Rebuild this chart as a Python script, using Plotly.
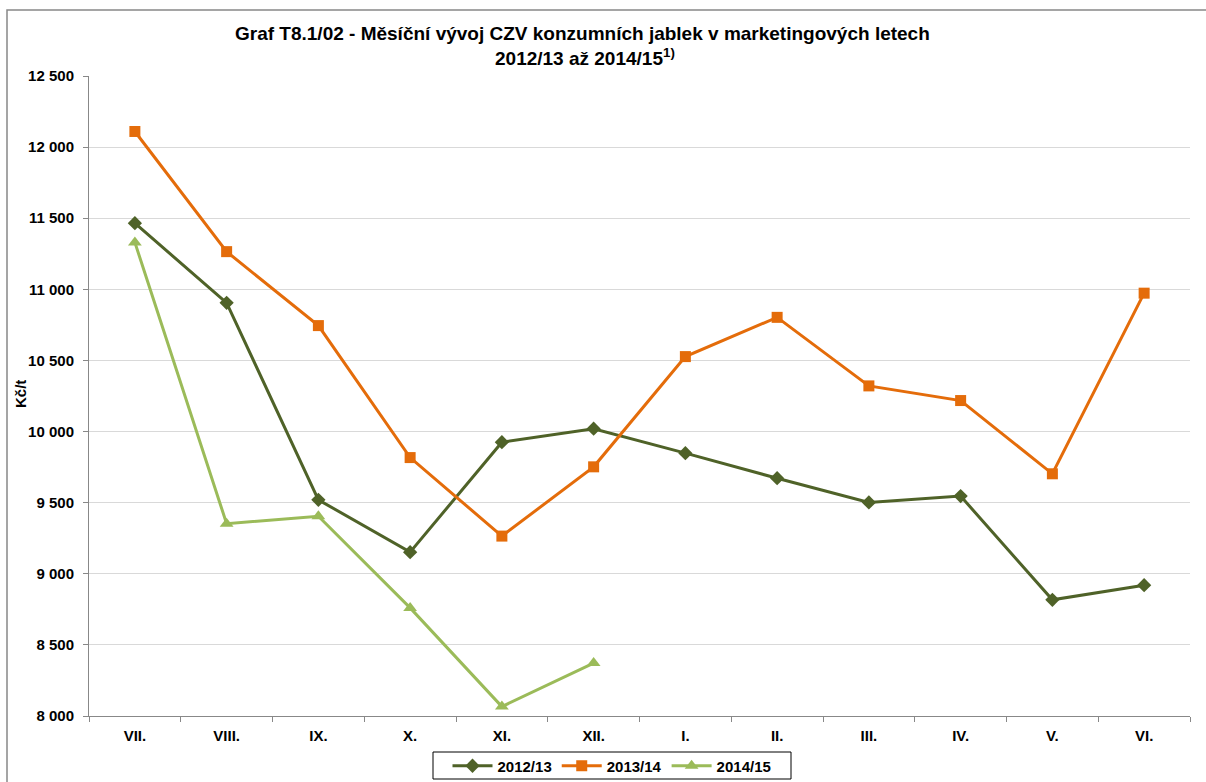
import plotly.graph_objects as go

months = ["VII.", "VIII.", "IX.", "X.", "XI.", "XII.", "I.", "II.", "III.", "IV.", "V.", "VI."]
s2012_13 = [11465, 10905, 9520, 9152, 9925, 10020, 9848, 9672, 9502, 9546, 8817, 8920]
s2013_14 = [12110, 11265, 10745, 9817, 9265, 9752, 10527, 10803, 10321, 10218, 9703, 10973]
s2014_15 = [11330, 9352, 9405, 8760, 8066, 8372]
y_tickvals = [8000, 8500, 9000, 9500, 10000, 10500, 11000, 11500, 12000, 12500]
y_ticktext = ["8 000", "8 500", "9 000", "9 500", "10 000", "10 500", "11 000", "11 500", "12 000", "12 500"]

W, H = 1206, 782
L, R, T, B = 89, 16, 76, 66
pw, ph = W - L - R, H - T - B

def px_x(x):
    return (x - L) / pw

def px_y(y):
    return (H - B - y) / ph

FONT = "Arial, Liberation Sans, sans-serif"
TICKFONT = dict(family=FONT, size=15, color="black", weight="bold")

fig = go.Figure()
fig.add_trace(go.Scatter(x=months, y=s2012_13, name="2012/13", mode="lines+markers",
                         line=dict(color="#4F6228", width=3),
                         marker=dict(symbol="diamond", size=11, color="#4F6228")))
fig.add_trace(go.Scatter(x=months, y=s2013_14, name="2013/14", mode="lines+markers",
                         line=dict(color="#E46C0A", width=3),
                         marker=dict(symbol="square", size=11, color="#E46C0A")))
fig.add_trace(go.Scatter(x=months[:len(s2014_15)], y=s2014_15, name="2014/15", mode="lines+markers",
                         line=dict(color="#9BBB59", width=3),
                         marker=dict(symbol="triangle-up", size=12, color="#9BBB59")))

fig.update_layout(
    width=W, height=H,
    margin=dict(l=L, r=R, t=T, b=B, autoexpand=False),
    paper_bgcolor="white", plot_bgcolor="white",
    font=dict(family=FONT, size=13, color="black"),
    showlegend=True,
    legend=dict(orientation="h", xref="paper", x=px_x(612), xanchor="center",
                yref="container", y=(H - 766) / H, yanchor="middle",
                bgcolor="rgba(0,0,0,0)", borderwidth=0,
                font=dict(family=FONT, size=15, color="black", weight="bold"),
                itemwidth=40, tracegroupgap=0),
    xaxis=dict(type="category", range=[-0.5, 11.5], showgrid=False, showline=True,
               linecolor="#888888", linewidth=1, ticks="outside", tickson="boundaries",
               ticklen=5, tickcolor="#888888", ticklabelstandoff=6,
               tickfont=TICKFONT),
    yaxis=dict(range=[8000, 12500], tickvals=y_tickvals, ticktext=y_ticktext,
               showgrid=True, gridcolor="#D9D9D9", gridwidth=1, showline=True,
               linecolor="#888888", linewidth=1, ticks="outside", ticklen=5, tickcolor="#888888",
               ticklabelstandoff=6, tickfont=TICKFONT, zeroline=False),
)

fig.add_annotation(xref="paper", yref="paper", x=px_x(582), y=px_y(34), xanchor="center", yanchor="middle",
                   showarrow=False,
                   text="<b>Graf T8.1/02 - Měsíční vývoj CZV konzumních jablek v marketingových letech</b>",
                   font=dict(family=FONT, size=19, color="black"))
fig.add_annotation(xref="paper", yref="paper", x=px_x(585), y=px_y(57), xanchor="center", yanchor="middle",
                   showarrow=False,
                   text="<b>2012/13 až 2014/15<sup>1)</sup></b>",
                   font=dict(family=FONT, size=19, color="black"))
fig.add_annotation(xref="paper", yref="paper", x=px_x(20), y=px_y(394), xanchor="center", yanchor="middle",
                   showarrow=False, textangle=-90, text="<b>Kč/t</b>",
                   font=dict(family=FONT, size=15, color="black"))

# outer chart border
fig.add_shape(type="rect", xref="paper", yref="paper",
              x0=px_x(7), x1=px_x(1230), y0=px_y(800), y1=px_y(10),
              line=dict(color="#888888", width=1.5), fillcolor="rgba(0,0,0,0)", layer="below")
# legend frame
fig.add_shape(type="rect", xref="paper", yref="paper",
              x0=px_x(433), x1=px_x(791), y0=px_y(779), y1=px_y(752),
              line=dict(color="black", width=1), fillcolor="white", layer="below")

fig.write_html("out.html", config={"displayModeBar": False},
               post_script="document.body.style.margin='0';document.body.style.overflow='hidden';")
